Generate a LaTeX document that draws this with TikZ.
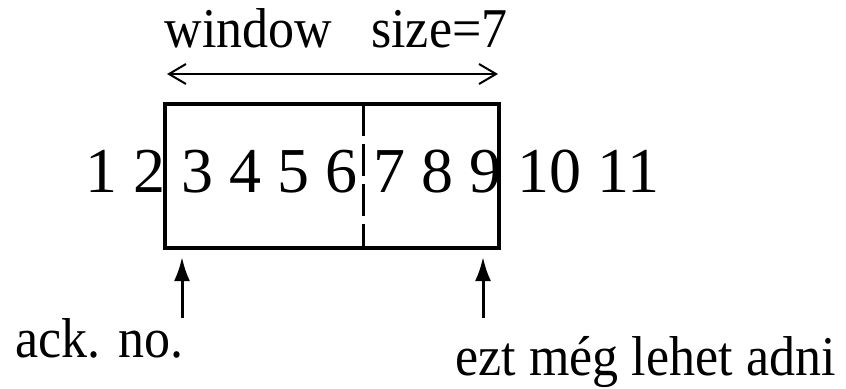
\documentclass[tikz,border=0pt]{standalone}
\usepackage{fontspec}
\setmainfont{Liberation Serif}
\usetikzlibrary{arrows.meta}

\tikzset{
  lbl/.style={anchor=base west,inner sep=0pt,yscale=1.08,font=\fontsize{26}{31}\selectfont},
  nums/.style={anchor=base west,inner sep=0pt,font=\fontsize{32}{38}\selectfont},
  pointer/.style={line width=1.5pt,-{Latex[length=12pt,width=8pt]}}
}

\begin{document}
\begin{tikzpicture}[x=0.5pt,y=0.5pt,line width=1.75pt]
\useasboundingbox (0,0) rectangle (846,388);
% the window
\coordinate (boxSW) at (165,140);
\coordinate (boxNE) at (499,284);
\coordinate (midS) at (363,140);
\coordinate (midN) at (363,284);
\draw (boxSW) rectangle (boxNE);
\draw[line width=1.5pt,dash pattern=on 16pt off 4pt] (midN) -- (midS);
\node[nums] (seq) at (84,196) {1 2 3 4 5 6 7 8 9 10 11};
% size of the window
\node[lbl] (size) at (163,341) {window~~~size=7};
\coordinate (winL) at (167,314);
\coordinate (winR) at (498,314);
\draw[line width=1pt,{Straight Barb[length=8.5pt,width=10pt]}-{Straight Barb[length=8.5pt,width=10pt]}] (winL) -- (winR);
% pointers below
\node[lbl] (ack) at (14,31) {ack. no.};
\node[lbl] (next) at (454,13) {ezt még lehet adni};
\coordinate (ackT) at (182,70);
\coordinate (ackH) at (182,131);
\coordinate (nextT) at (483,70);
\coordinate (nextH) at (483,131);
\draw[pointer] (ackT) -- (ackH);
\draw[pointer] (nextT) -- (nextH);
\end{tikzpicture}
\end{document}
